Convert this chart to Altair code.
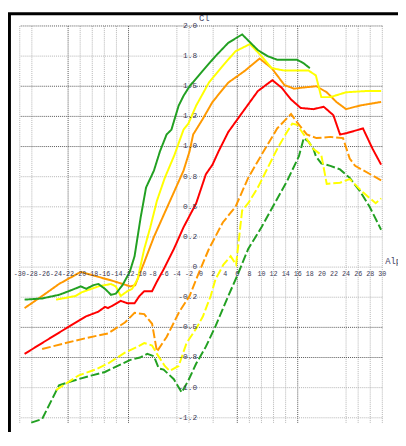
import altair as alt
import pandas as pd

# ---- axis ticks / grid ----
x_tick_values = list(range(-30, 31, 2))
x_tick_labels = [str(v) for v in x_tick_values]
y_tick_values = [2.0, 1.75, 1.5, 1.25, 1.0, 0.75, 0.5, 0.25, 0.0, -0.25, -0.5, -0.75, -1.0, -1.25]
y_tick_labels = ["2.0", "1.8", "1.5", "1.2", "1.0", "0.8", "0.5", "0.2", "0", "-0.2", "-0.5", "-0.8", "-1.0", "-1.2"]

grid_x_light = [-30, -28, -20, -18, -16, -14, -4, -2, 2, 8, 10, 12, 14, 24, 26, 28, 30]
grid_x_dark = [-22, -12, 6, 16]
grid_y_light = [1.75, 0.75, 0.5, 0.25, 0.0, -0.25, -1.0, -1.25]
grid_y_dark = [2.0, 1.5, 1.25, 1.0, -0.5, -0.75]

# ---- series (Alpha, Cl) ----
green_up_alpha = [-29.2, -26.3, -23.5, -21.9, -19.9, -19.0, -17.8, -17.0, -15.9, -14.9, -14.1, -13.0, -11.8, -11.0, -10.0,
                  -9.1, -7.8, -6.8, -5.7, -4.9, -3.7, -2.9, -1.9, 0.3, 2.4, 4.5, 6.8, 7.8, 9.4, 11.0, 12.6, 14.3, 15.9, 17.0, 18.0]
green_up_cl = [-0.27, -0.26, -0.23, -0.20, -0.16, -0.18, -0.15, -0.14, -0.18, -0.23, -0.22, -0.15, -0.04, 0.09, 0.41,
               0.66, 0.80, 0.96, 1.10, 1.14, 1.34, 1.42, 1.50, 1.63, 1.75, 1.86, 1.93, 1.88, 1.80, 1.75, 1.72, 1.72, 1.72, 1.69, 1.65]

yellow_up_alpha = [-24.0, -20.8, -19.8, -17.0, -14.9, -14.1, -13.3, -12.2, -11.4, -10.5, -9.4, -8.4, -7.3, -6.0, -4.4, -2.9,
                   -2.1, -0.8, 1.3, 3.6, 5.7, 8.1, 10.0, 11.7, 13.8, 15.9, 17.8, 19.0, 19.9, 21.4, 24.0, 27.2, 29.8]
yellow_up_cl = [-0.27, -0.24, -0.21, -0.16, -0.14, -0.16, -0.24, -0.20, -0.18, -0.10, 0.15, 0.33, 0.55, 0.74, 0.93, 1.14,
                1.19, 1.34, 1.53, 1.67, 1.79, 1.85, 1.75, 1.65, 1.63, 1.63, 1.63, 1.59, 1.41, 1.41, 1.45, 1.46, 1.46]

orange_up_alpha = [-29.2, -26.3, -23.5, -19.9, -17.8, -14.9, -11.7, -10.9, -9.4, -7.8, -6.2, -4.5, -2.9, -1.9, -1.3,
                   0.3, 1.9, 4.5, 7.3, 9.7, 11.7, 13.8, 15.4, 17.0, 19.1, 20.8, 22.4, 24.0, 26.3, 29.8]
orange_up_cl = [-0.34, -0.24, -0.14, -0.04, -0.07, -0.11, -0.16, -0.15, 0.04, 0.25, 0.43, 0.62, 0.80, 0.96, 1.10,
                1.23, 1.37, 1.53, 1.63, 1.73, 1.65, 1.51, 1.48, 1.49, 1.50, 1.45, 1.37, 1.31, 1.34, 1.37]

red_alpha = [-29.2, -26.3, -22.4, -19.1, -17.0, -15.9, -15.4, -14.3, -13.3, -12.2, -11.0, -10.2, -9.4, -8.1, -7.3, -6.2,
             -4.5, -2.9, -0.8, 0.8, 1.9, 2.9, 4.5, 6.8, 9.4, 11.8, 13.3, 14.9, 16.5, 18.6, 20.3, 21.9, 23.0, 24.0, 26.8, 28.4, 29.8]
red_cl = [-0.72, -0.63, -0.51, -0.41, -0.37, -0.33, -0.34, -0.31, -0.28, -0.30, -0.30, -0.24, -0.20, -0.20, -0.12, -0.02,
          0.15, 0.33, 0.53, 0.77, 0.85, 0.96, 1.12, 1.28, 1.46, 1.55, 1.49, 1.39, 1.32, 1.31, 1.33, 1.26, 1.10, 1.11, 1.15, 0.98, 0.85]

orange_low_alpha = [-26.3, -22.4, -19.1, -15.4, -12.6, -11.0, -9.4, -8.1, -7.3, -5.7, -3.6, -1.9, -0.3, 1.3, 3.6, 5.7,
                    7.8, 10.0, 12.6, 14.9, 15.9, 17.5, 19.1, 21.4, 23.5, 24.6, 25.5, 29.8]
orange_low_cl = [-0.68, -0.63, -0.59, -0.55, -0.46, -0.38, -0.39, -0.47, -0.70, -0.58, -0.37, -0.24, -0.04, 0.15, 0.37, 0.50,
                 0.74, 0.93, 1.15, 1.27, 1.20, 1.10, 1.07, 1.08, 1.07, 0.90, 0.84, 0.72]

yellow_low_alpha = [-24.0, -20.3, -17.5, -15.4, -12.6, -10.5, -9.4, -8.1, -7.3, -6.0, -5.2, -3.7, -2.4, -0.8, 0.3, 1.6,
                    2.4, 3.7, 4.9, 5.8, 6.8, 7.8, 9.4, 11.0, 12.6, 14.1, 15.1, 15.9, 17.0, 18.6, 19.9, 20.8, 23.0, 24.6, 26.8, 28.9, 29.8]
yellow_low_cl = [-1.02, -0.90, -0.85, -0.80, -0.71, -0.66, -0.63, -0.65, -0.72, -0.82, -0.86, -0.82, -0.63, -0.51, -0.41, -0.24,
                 -0.10, 0.02, 0.09, 0.02, 0.47, 0.53, 0.66, 0.82, 0.98, 1.11, 1.19, 1.18, 1.10, 0.98, 0.93, 0.69, 0.70, 0.73, 0.62, 0.53, 0.57]

green_low_alpha = [-28.1, -26.3, -23.5, -20.3, -18.2, -15.9, -13.8, -11.7, -10.1, -8.9, -7.8, -7.0, -6.2, -4.5, -3.2, -2.1,
                   -0.8, 0.8, 2.4, 4.5, 6.0, 7.8, 10.0, 12.2, 14.3, 16.2, 17.0, 17.8, 18.6, 19.0, 19.9, 21.4, 23.0, 24.6, 26.3, 27.9, 29.8]
green_low_cl = [-1.29, -1.26, -0.98, -0.93, -0.90, -0.87, -0.82, -0.77, -0.75, -0.72, -0.74, -0.84, -0.85, -0.93, -1.04, -0.94,
                -0.80, -0.66, -0.49, -0.24, -0.07, 0.15, 0.33, 0.53, 0.72, 0.92, 1.07, 1.04, 0.98, 0.92, 0.86, 0.84, 0.81, 0.74, 0.63, 0.50, 0.31]

series = [
    ("green_low", "green", "dashed", green_low_alpha, green_low_cl),
    ("yellow_low", "yellow", "dashed", yellow_low_alpha, yellow_low_cl),
    ("orange_low", "orange", "dashed", orange_low_alpha, orange_low_cl),
    ("red", "red", "solid", red_alpha, red_cl),
    ("orange_up", "orange", "solid", orange_up_alpha, orange_up_cl),
    ("yellow_up", "yellow", "solid", yellow_up_alpha, yellow_up_cl),
    ("green_up", "green", "solid", green_up_alpha, green_up_cl),
]

rows = []
for name, col, style, a_list, c_list in series:
    for i, (a, c) in enumerate(zip(a_list, c_list)):
        rows.append({"series": name, "colour": col, "style": style, "alpha": a, "cl": c, "order": i})
df = pd.DataFrame(rows)

W, H = 370, 406
X_DOM = [-30, 30]
Y_DOM = [-1.3, 2.0]

xscale = alt.Scale(domain=X_DOM, nice=False, zero=False)
yscale = alt.Scale(domain=Y_DOM, nice=False, zero=False)

FONT = "Liberation Mono"
LABEL_COLOR = "#3a3a55"


def vgrid(vals, color):
    return alt.Chart(pd.DataFrame({"a": vals})).mark_rule(color=color, strokeDash=[1, 1], strokeWidth=1).encode(
        x=alt.X("a:Q", scale=xscale, axis=None))


def hgrid(vals, color):
    return alt.Chart(pd.DataFrame({"c": vals})).mark_rule(color=color, strokeDash=[1, 1], strokeWidth=1).encode(
        y=alt.Y("c:Q", scale=yscale, axis=None))


lines = alt.Chart(df).mark_line(strokeWidth=2).encode(
    x=alt.X("alpha:Q", scale=xscale, axis=None),
    y=alt.Y("cl:Q", scale=yscale, axis=None),
    color=alt.Color("colour:N", scale=alt.Scale(domain=["green", "yellow", "orange", "red"],
                                                range=["#22a022", "#ffff00", "#ff9900", "#ff0000"]), legend=None),
    strokeDash=alt.StrokeDash("style:N", scale=alt.Scale(domain=["solid", "dashed"], range=[[1, 0], [9, 3]]),
                              legend=None),
    detail="series:N",
    order="order:Q",
)

# axis labels drawn along the Cl = 0 and Alpha = 0 lines
xlab_df = pd.DataFrame({"a": x_tick_values, "c": [0.0] * len(x_tick_values), "t": x_tick_labels})
x_labels = alt.Chart(xlab_df).mark_text(font=FONT, fontSize=6.8, color=LABEL_COLOR, baseline="top", align="center",
                                        dy=4).encode(
    x=alt.X("a:Q", scale=xscale, axis=None), y=alt.Y("c:Q", scale=yscale, axis=None), text="t:N")

ylab_df = pd.DataFrame({"a": [0.0] * len(y_tick_values), "c": y_tick_values, "t": y_tick_labels})
y_labels = alt.Chart(ylab_df).mark_text(font=FONT, fontSize=8, color=LABEL_COLOR, baseline="middle", align="right",
                                        dx=-4).encode(
    x=alt.X("a:Q", scale=xscale, axis=None), y=alt.Y("c:Q", scale=yscale, axis=None), text="t:N")

titles_df = pd.DataFrame({"a": [0.0, 30.0], "c": [2.0, 0.0], "t": ["Cl", "Alpha"]})
title_cl = alt.Chart(titles_df.iloc[[0]]).mark_text(font=FONT, fontSize=9, color="#444466", align="left",
                                                    baseline="alphabetic", dx=-2, dy=-5).encode(
    x=alt.X("a:Q", scale=xscale, axis=None), y=alt.Y("c:Q", scale=yscale, axis=None), text="t:N")
title_alpha = alt.Chart(titles_df.iloc[[1]]).mark_text(font=FONT, fontSize=9, color="#444466", align="left",
                                                       baseline="alphabetic", dx=3, dy=-3).encode(
    x=alt.X("a:Q", scale=xscale, axis=None), y=alt.Y("c:Q", scale=yscale, axis=None), text="t:N")

frame = alt.Chart(pd.DataFrame({"k": [0]})).mark_rect(filled=False, stroke="black", strokeWidth=3).encode(
    x=alt.value(-10.5), x2=alt.value(440), y=alt.value(-12.5), y2=alt.value(460))

chart = alt.layer(
    vgrid(grid_x_light, "#b4b4b4"), vgrid(grid_x_dark, "#555555"),
    hgrid(grid_y_light, "#b4b4b4"), hgrid(grid_y_dark, "#555555"),
    lines, x_labels, y_labels, title_cl, title_alpha, frame,
).properties(
    width=W, height=H,
    padding={"left": 12, "top": 14, "right": 16, "bottom": 4},
    autosize=alt.AutoSizeParams(type="none"),
    background="white",
).configure_view(stroke=None)

chart.save("out.html", embed_options={"renderer": "svg", "actions": False})
